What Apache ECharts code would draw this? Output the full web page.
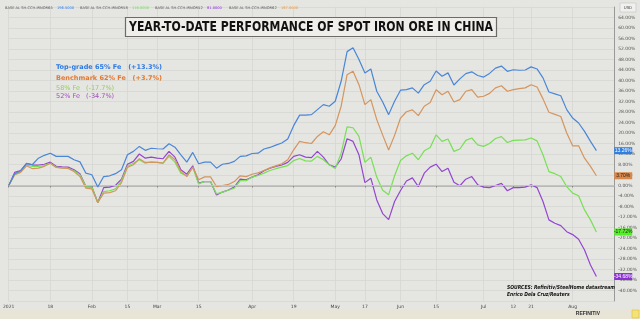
<!DOCTYPE html>
<html><head><meta charset="utf-8">
<script src="https://cdn.jsdelivr.net/npm/echarts@6/dist/echarts.min.js"></script>
<style>html,body{margin:0;padding:0;background:#e5e5e2;}#c{width:640px;height:319px;}</style>
</head><body><div id="c"></div>
<script>
const topGrade = [0,4.5,5.6,8.3,8.0,10.4,11.5,12.3,11.1,11.1,11.1,9.8,9.0,4.7,4.1,-0.6,3.4,3.7,4.5,6.0,11.7,13.0,14.9,13.4,14.2,14.0,13.9,15.9,14.6,11.7,8.9,12.6,8.3,8.9,8.9,6.6,8.1,8.4,9.2,11.1,11.3,12.2,12.3,13.9,14.5,15.4,16.2,17.7,22.8,26.8,26.8,27.0,28.9,30.8,30.2,32.1,39.7,51.0,52.5,48.0,42.9,44.4,35.9,31.8,27.0,32.1,36.3,36.5,37.2,35.2,38.4,39.7,43.6,41.6,42.9,38.3,40.6,42.6,43.3,41.9,41.3,42.7,44.7,45.5,43.5,44.1,43.9,44.0,45.2,44.4,41.0,35.6,34.9,34.2,28.9,25.7,23.8,20.6,16.8,13.26];
const benchmark = [0,4.1,5.0,7.5,6.4,6.6,7.3,8.5,6.9,6.6,6.5,5.3,3.4,-1.0,-1.3,-6.5,-2.9,-2.7,-2.0,1.1,6.9,7.9,10.2,8.8,8.8,8.8,8.5,11.7,9.8,5.3,3.4,7.0,2.2,3.3,3.3,-0.4,0,0.4,1.5,3.7,3.4,4.3,4.8,5.7,6.7,7.5,8.3,9.8,13.6,16.8,16.3,16.0,18.7,20.5,19.3,22.8,30.2,42.2,43.5,38.4,30.8,32.7,25.1,19.2,13.5,19.1,25.7,28.1,28.8,26.6,30.2,31.6,36.5,34.6,35.9,31.8,32.7,35.9,36.5,33.7,34.0,35.1,37.2,38.0,35.9,36.5,36.9,37.2,38.4,37.5,33.0,27.9,27.1,26.3,20.0,15.1,15.1,10.4,7.3,3.70];
const fe58 = [0,4.1,5.2,7.8,7.3,7.3,7.6,8.5,7.0,6.7,6.6,5.6,4.1,-0.4,-0.6,-6.5,-2.3,-2.0,-1.3,1.9,7.3,8.5,9.8,8.5,9.0,8.8,8.5,11.1,8.9,4.7,3.7,6.9,0.6,1.5,1.5,-3.2,-2.5,-1.8,-1.0,1.9,1.8,3.2,3.8,4.7,5.7,6.4,7.0,7.6,9.5,10.3,9.4,9.3,11.1,9.8,7.9,6.5,12.3,22.3,22.0,18.7,8.8,10.8,3.2,-1.8,-3.5,3.7,9.5,11.3,12.3,9.8,13.2,14.5,19.3,16.8,17.7,13.0,13.9,17.2,18.1,15.5,14.9,16.0,17.9,18.6,16.4,17.2,17.3,17.4,18.1,17.0,11.7,5.3,4.5,3.4,-0.4,-2.9,-3.9,-9.3,-13.1,-17.72];
const fe52 = [0,5.0,5.7,8.4,7.8,7.8,8.1,8.9,7.3,7.1,7.0,6.0,4.5,-0.4,-0.5,-6.5,-0.8,-0.6,0.1,2.4,8.1,9.2,12.0,10.4,10.8,10.4,10.2,13.0,10.8,6.0,4.3,7.5,0.9,1.5,1.5,-3.6,-2.5,-1.7,-0.6,2.4,2.2,3.2,4.1,5.6,6.6,7.3,7.8,8.8,11.1,11.7,10.8,10.6,13.0,10.8,7.9,7.0,10.1,17.8,16.8,11.7,1.1,2.8,-5.5,-10.7,-13.0,-6.1,-1.9,1.7,2.9,-0.4,4.7,7.0,8.1,5.3,6.6,1.2,-0.1,2.4,3.4,0.3,-0.6,-0.8,0,0.8,-2.0,-0.8,-0.8,-0.6,0.3,-0.8,-6.1,-13.1,-14.4,-15.3,-17.6,-18.7,-20.5,-24.6,-30.3,-34.68];
const tickIdx = [0,7,14,20,25,32,41,48,55,60,66,72,80,85,88,95];
const tickLabels = ['2021','18','Feb','15','Mar','15','Apr','19','May','17','Jun','15','Jul','12','21','Aug'];
const nCats = 103;
const categories = Array.from({length:nCats},(_,i)=>String(i));
const names = ['Top-grade 65% Fe','Benchmark 62% Fe','58% Fe','52% Fe'];
const colors = ['#4a86d8','#d4955f','#77e055','#9346d0'];
const boxColors = ['#2f7ee0','#d8884a','#55ee2a','#8a2fd0'];
const boxText = ['#ffffff','#222222','#222222','#ffffff'];
const seriesData = [topGrade, benchmark, fe58, fe52];

const chart = echarts.init(document.getElementById('c'), null, {renderer:'canvas'});
const tickSet = new Set(tickIdx);
const series = seriesData.map((d,i)=>({
  name: names[i], type:'line', data:d, showSymbol:false, symbol:'none',
  lineStyle:{width:1.2,color:colors[i]}, itemStyle:{color:colors[i]}, z: 5-i,
  markPoint:{
    symbol:'rect', symbolSize:[18,7], symbolOffset:[9,0], silent:true,
    itemStyle:{color:boxColors[i]},
    label:{show:true, position:'inside', fontSize:5, color:boxText[i], fontFamily:'Liberation Sans', formatter:()=>d[d.length-1].toFixed(2)+'%'},
    data:[{coord:[nCats-1, d[d.length-1]]}]
  }
}));
const lg = [
  {t:names[0]+'   (+13.3%)', c:'#2c7be5', w:'bold', y:67.5},
  {t:names[1]+'   (+3.7%)', c:'#e4782f', w:'bold', y:78},
  {t:names[2]+'   (-17.7%)', c:'#93cf5c', w:'normal', y:88},
  {t:names[3]+'   (-34.7%)', c:'#a54cc0', w:'normal', y:96.5}
];
const hdr = [
  {x:5, t:'BASE AL SH-CCH-IRNOR65', v:'196.5000', c:'#2f7ee0', vx:57},
  {x:80, t:'BASE AL SH-CCH-IRNOR58', v:'116.0000', c:'#77e055', vx:132},
  {x:155, t:'BASE AL SH-CCH-IRNOR52', v:'81.0000', c:'#8a2fd0', vx:207},
  {x:229, t:'BASE AL SH-CCH-IRNOR62', v:'167.0000', c:'#e09a50', vx:281}
];
const mc = document.createElement('canvas').getContext('2d');
function fitScale(text, font, target, fallback){ mc.font = font; const w = mc.measureText(text).width || fallback; return target / w; }
const titleText = 'YEAR-TO-DATE PERFORMANCE OF SPOT IRON ORE IN CHINA';
const titleFont = 'bold 13.5px "DejaVu Sans"';
const tScale = fitScale(titleText, titleFont, 364, 450);
const src1 = 'SOURCES: Refinitiv/SteelHome datastream';
const src2 = 'Enrico Dela Cruz/Reuters';
const srcFont = 'italic bold 5.5px "DejaVu Sans"';
const sScale = fitScale(src1, srcFont, 108, 130);

const graphics = [
  {type:'rect', shape:{x:0,y:309,width:640,height:10}, style:{fill:'#e8e4d6'}, z:0, silent:true},
  {type:'text', style:{x:600,y:314,text:'REFINITIV',fill:'#333',font:'bold 5px Liberation Sans',textAlign:'right',textVerticalAlign:'middle'}},
  {type:'rect', shape:{x:632,y:310,width:7,height:8}, style:{fill:'#f3e27a',stroke:'#e0c030',lineWidth:0.6}},
  {type:'rect', shape:{x:620,y:3,width:16,height:9}, style:{fill:'#f0f0ee',stroke:'#bbb',lineWidth:0.5}},
  {type:'text', style:{x:628,y:7.5,text:'USD',fill:'#444',font:'4px Liberation Sans',textAlign:'center',textVerticalAlign:'middle'}},
  {type:'rect', shape:{x:125.5,y:17.5,width:371,height:19}, style:{fill:'#efeeea',stroke:'#6e6a66',lineWidth:1.2}, z:10},
  {type:'text', x:311, y:27.5, scaleX:tScale, scaleY:1, style:{x:0,y:0,text:titleText,fill:'#111',font:titleFont,textAlign:'center',textVerticalAlign:'middle'}, z:11},
  {type:'text', x:507, y:288, scaleX:sScale, style:{x:0,y:0,text:src1,fill:'#111',font:srcFont,textVerticalAlign:'middle'}, z:11},
  {type:'text', x:507, y:294.5, scaleX:sScale, style:{x:0,y:0,text:src2,fill:'#111',font:srcFont,textVerticalAlign:'middle'}, z:11}
];
lg.forEach(o=>graphics.push({type:'text', style:{x:56,y:o.y,text:o.t,fill:o.c,font:o.w+' 6.5px "DejaVu Sans"',textVerticalAlign:'middle'}, z:11}));
hdr.forEach(o=>{
  graphics.push({type:'text', style:{x:o.x,y:8,text:o.t,fill:'#555',font:'3.6px "DejaVu Sans"',textVerticalAlign:'middle'}, z:11});
  graphics.push({type:'text', style:{x:o.vx,y:8,text:o.v,fill:o.c,font:'3.6px "DejaVu Sans"',textVerticalAlign:'middle'}, z:11});
});

chart.setOption({
  animation:false,
  backgroundColor:'#e5e5e2',
  grid:{left:3, right:22, top:7, bottom:18, containLabel:false},
  xAxis:{type:'category', data:categories, boundaryGap:false,
    axisLine:{show:true, lineStyle:{color:'#aaaaaa', width:1.5}},
    axisTick:{show:true, length:2, interval:(i)=>tickSet.has(i), lineStyle:{color:'#888'}},
    axisLabel:{interval:(i)=>tickSet.has(i), fontSize:4.5, color:'#444', margin:3, fontFamily:'DejaVu Sans',
      formatter:(v,i)=>{const k=tickIdx.indexOf(Number(v)); return k>=0?tickLabels[k]:'';}},
    splitLine:{show:true, interval:(i)=>tickSet.has(i), lineStyle:{color:'#d6d6d3', width:0.8}}
  },
  yAxis:{type:'value', position:'right', min:-44, max:68, interval:4,
    axisLine:{show:true, onZero:false, lineStyle:{color:'#999', width:1}},
    axisTick:{show:false},
    axisLabel:{fontSize:4.5, color:'#555', margin:4, fontFamily:'DejaVu Sans', showMinLabel:false, showMaxLabel:false,
      formatter:(v)=>v.toFixed(2)+'%'},
    splitLine:{show:true, lineStyle:{color:'#d6d6d3', width:0.8}}
  },
  series: series.concat([{type:'line', data:[], markLine:{silent:true, symbol:'none', label:{show:false},
    lineStyle:{color:'#c4c4c4', width:1.2, type:'solid'}, data:[{yAxis:0}]}}]),
  graphic: graphics
});
</script></body></html>
